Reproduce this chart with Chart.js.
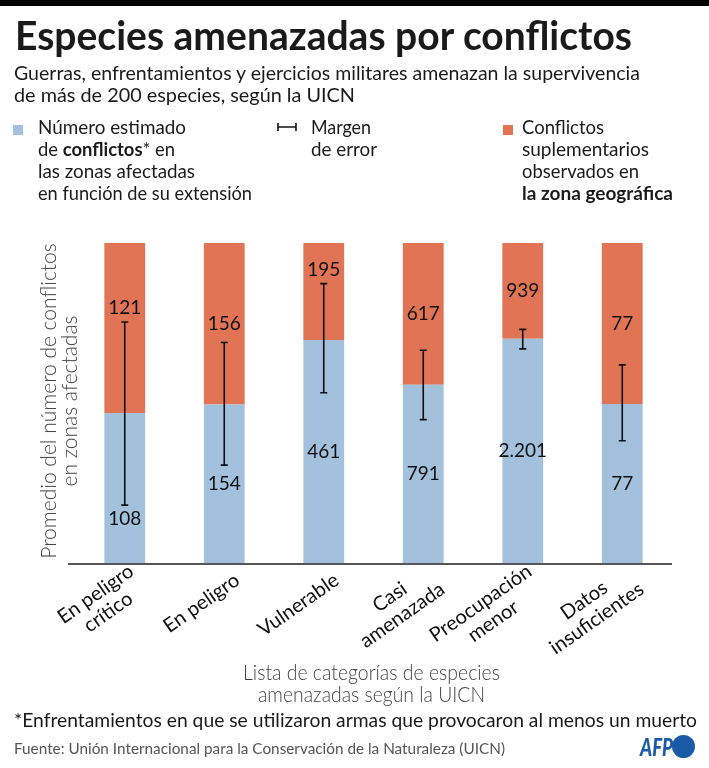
<!DOCTYPE html>
<html>
<head>
<meta charset="utf-8">
<script src="https://cdn.jsdelivr.net/npm/chart.js@4/dist/chart.umd.min.js"></script>
<style>
  body { margin: 0; width: 709px; height: 768px; position: relative; overflow: hidden; background: #fff; font-family: Lato, sans-serif; color: #1a1a1a; }
  .t { position: absolute; white-space: nowrap; transform-origin: 0 0; line-height: 22px; font-size: 19px; }
  #topbar { position: absolute; left: 0; top: 0; width: 709px; height: 6px; background: #000; }
  #chart { position: absolute; left: 0; top: 0; }
  .sq { position: absolute; width: 10px; height: 10px; }
  #ytitle { position: absolute; left: 58px; top: 401px; width: 340px; transform: translate(-50%, -50%) rotate(-90deg); text-align: center; font-size: 21px; line-height: 21px; color: #444; font-weight: 300; white-space: nowrap; }
  .lt { font-size: 21px; font-weight: 300; color: #444; }
</style>
</head>
<body>
<div id="topbar"></div>
<canvas id="chart" width="709" height="768"></canvas>

<div class="t" style="left:15px;top:15px;font-size:40px;line-height:40px;font-weight:700" data-w="617">Especies amenazadas por conflictos</div>
<div class="t" style="left:14px;top:62px" data-w="626">Guerras, enfrentamientos y ejercicios militares amenazan la supervivencia</div>
<div class="t" style="left:14px;top:84px" data-w="341">de más de 200 especies, según la UICN</div>

<div class="sq" style="left:13px;top:125px;background:#a3c1dc"></div>
<div class="t" style="left:38px;top:116px" data-w="148">Número estimado</div>
<div class="t" style="left:38px;top:138px" data-w="137">de <b>conflictos</b>* en</div>
<div class="t" style="left:38px;top:160px" data-w="157">las zonas afectadas</div>
<div class="t" style="left:38px;top:182px" data-w="214">en función de su extensión</div>

<svg style="position:absolute;left:276px;top:121px" width="22" height="12"><path d="M2 2 V10 M2 6 H20 M20 2 V10" stroke="#111" stroke-width="1.6" fill="none"/></svg>
<div class="t" style="left:311px;top:116px" data-w="60">Margen</div>
<div class="t" style="left:311px;top:138px" data-w="66">de error</div>

<div class="sq" style="left:503px;top:125px;background:#e07455"></div>
<div class="t" style="left:522px;top:116px" data-w="82">Conflictos</div>
<div class="t" style="left:522px;top:138px" data-w="127">suplementarios</div>
<div class="t" style="left:522px;top:160px" data-w="117">observados en</div>
<div class="t" style="left:522px;top:182px;font-weight:700" data-w="151">la zona geográfica</div>

<div id="ytitle">Promedio del número de conflictos<br>en zonas afectadas</div>
<div class="t lt" style="left:243px;top:661px" data-w="257">Lista de categorías de especies</div>
<div class="t lt" style="left:258px;top:683px" data-w="227">amenazadas según la UICN</div>

<div class="t" style="left:14px;top:709px" data-w="683">*Enfrentamientos en que se utilizaron armas que provocaron al menos un muerto</div>
<div class="t" style="left:14px;top:737px;font-size:15px;color:#555" data-w="491">Fuente: Unión Internacional para la Conservación de la Naturaleza (UICN)</div>

<div class="t" style="left:640px;top:733px;font-size:25px;line-height:26px;font-weight:900;font-style:italic;color:#1b5aa8" data-w="33">AFP</div>
<div style="position:absolute;left:672px;top:735px;width:23px;height:23px;border-radius:50%;background:#1b5aa8"></div>

<script>
// valeurs (en % de la hauteur de barre)
const categories = [["En peligro", "crítico"], ["En peligro"], ["Vulnerable"], ["Casi", "amenazada"], ["Preocupación", "menor"], ["Datos", "insuficientes"]];
const bluePct = [46.9, 49.5, 69.7, 55.7, 70.1, 49.7];
const orangePct = [53.1, 50.5, 30.3, 44.3, 29.9, 50.3];
const errLow = [18.1, 30.6, 53.2, 44.8, 66.9, 38.2];
const errHigh = [75.3, 68.9, 87.3, 66.5, 73.0, 61.9];
const blueLabels = ["108", "154", "461", "791", "2.201", "77"];
const orangeLabels = ["121", "156", "195", "617", "939", "77"];

// ajuste des largeurs de texte
document.querySelectorAll(".t[data-w]").forEach(el => {
  const w = el.getBoundingClientRect().width;
  const target = +el.dataset.w;
  if (w > 0) el.style.transform = "scaleX(" + (target / w) + ")";
});

const extras = {
  id: "extras",
  afterDatasetsDraw(chart) {
    const { ctx, scales: { x, y }, chartArea } = chart;
    ctx.save();

    // axe horizontal
    ctx.strokeStyle = "#555";
    ctx.lineWidth = 2;
    ctx.beginPath();
    ctx.moveTo(68, chartArea.bottom + 1);
    ctx.lineTo(672, chartArea.bottom + 1);
    ctx.stroke();

    ctx.font = "19px Lato";
    ctx.fillStyle = "#111";
    ctx.textAlign = "center";
    ctx.textBaseline = "middle";

    categories.forEach((c, i) => {
      const cx = x.getPixelForValue(i);
      const yHi = y.getPixelForValue(errHigh[i]);
      const yLo = y.getPixelForValue(errLow[i]);

      // barre d'erreur
      ctx.strokeStyle = "#111";
      ctx.lineWidth = 1.6;
      ctx.beginPath();
      ctx.moveTo(cx, yHi); ctx.lineTo(cx, yLo);
      ctx.moveTo(cx - 3.5, yHi); ctx.lineTo(cx + 3.5, yHi);
      ctx.moveTo(cx - 3.5, yLo); ctx.lineTo(cx + 3.5, yLo);
      ctx.stroke();

      // étiquettes
      const top = y.getPixelForValue(100);
      const mid = y.getPixelForValue(bluePct[i]);
      const base = y.getPixelForValue(0);
      const yTop = Math.min(yHi - 14, (top + mid) / 2);
      const yBot = Math.max((mid + base) / 2, yLo + 14);
      ctx.fillText(orangeLabels[i], cx, yTop);
      ctx.fillText(blueLabels[i], cx, yBot);

      // catégories inclinées
      ctx.save();
      ctx.font = "20px Lato";
      ctx.translate(cx + 13, chartArea.bottom + 15);
      ctx.rotate(-35 * Math.PI / 180);
      const w = Math.max(...c.map(s => ctx.measureText(s).width));
      c.forEach((s, k) => {
        ctx.fillText(s, -w / 2, (k - (c.length - 1) / 2) * 22);
      });
      ctx.restore();
    });
    ctx.restore();
  }
};

new Chart(document.getElementById("chart"), {
  type: "bar",
  data: {
    labels: categories,
    datasets: [
      { label: "Número estimado", data: bluePct, backgroundColor: "#a3c1dc" },
      { label: "Conflictos suplementarios", data: orangePct, backgroundColor: "#e07455" }
    ]
  },
  options: {
    responsive: false,
    animation: false,
    layout: { padding: { left: 75, right: 37, top: 243, bottom: 205 } },
    categoryPercentage: 1,
    barPercentage: 0.41,
    plugins: { legend: { display: false }, tooltip: { enabled: false } },
    scales: {
      x: { stacked: true, display: false },
      y: { stacked: true, display: false, min: 0, max: 100 }
    }
  },
  plugins: [extras]
});
</script>
</body>
</html>
